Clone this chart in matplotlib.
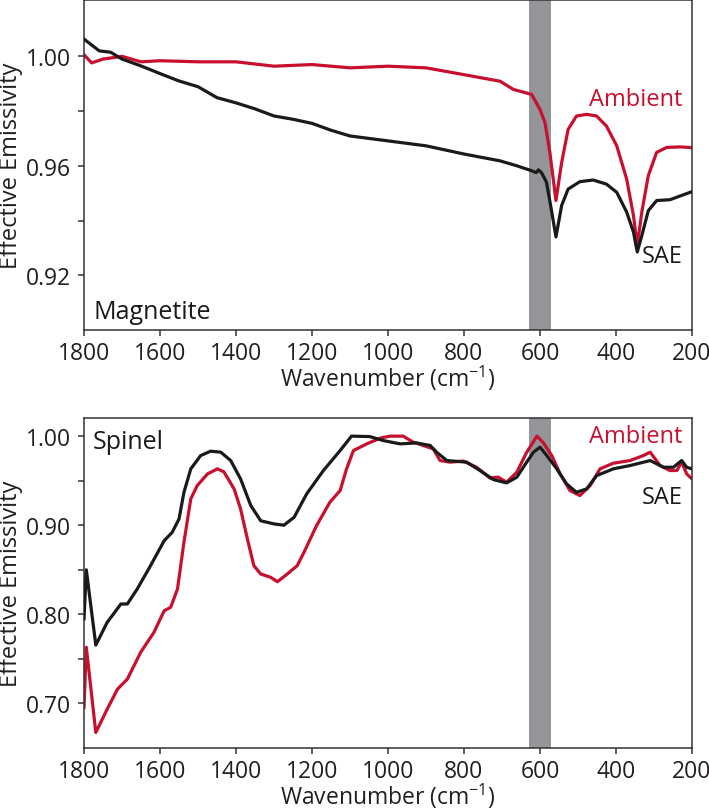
import matplotlib
matplotlib.use("Agg")
import matplotlib.pyplot as plt

plt.rcParams['font.family'] = ['Open Sans', 'DejaVu Sans']
plt.rcParams['mathtext.default'] = 'regular'

# ---------------- Magnetite (top) ----------------
mag_sae_w = [1800, 1760, 1730, 1700, 1650, 1600, 1550, 1500, 1450, 1400, 1350, 1300, 1250,
             1200, 1150, 1100, 1000, 900, 800, 705, 661, 622, 610, 604, 596, 583, 572, 558,
             543, 526, 495, 460, 425, 398, 372, 354, 344, 332, 315, 293, 258, 205, 200]
mag_sae_v = [1.0063, 1.002, 1.0015, 0.999, 0.9965, 0.9937, 0.991, 0.9889, 0.9849, 0.9830,
             0.9808, 0.9782, 0.9770, 0.9755, 0.9730, 0.9709, 0.9691, 0.9673, 0.9643, 0.9618,
             0.9600, 0.9582, 0.9575, 0.9585, 0.9575, 0.9540, 0.9455, 0.9340, 0.9455, 0.9515,
             0.9542, 0.9548, 0.9533, 0.9503, 0.9431, 0.9358, 0.9285, 0.9345, 0.9436, 0.9473,
             0.9476, 0.9503, 0.9505]

mag_amb_w = [1800, 1780, 1750, 1700, 1650, 1600, 1500, 1400, 1300, 1200, 1100, 1000, 900,
             800, 705, 670, 622, 600, 587, 574, 558, 543, 526, 504, 477, 451, 425, 398, 372,
             354, 344, 332, 315, 293, 267, 232, 205, 200]
mag_amb_v = [1.0006, 0.9976, 0.9990, 1.0000, 0.9980, 0.9984, 0.9980, 0.9980, 0.9964, 0.9970,
             0.9958, 0.9964, 0.9958, 0.9933, 0.9909, 0.9879, 0.9861, 0.9806, 0.9758, 0.9649,
             0.9473, 0.9612, 0.9733, 0.9782, 0.9788, 0.9782, 0.9745, 0.9673, 0.9552, 0.9418,
             0.9309, 0.9431, 0.9564, 0.9649, 0.9667, 0.9669, 0.9667, 0.9665]

# ---------------- Spinel (bottom) ----------------
sp_sae_w = [1800, 1794, 1769, 1739, 1703, 1686, 1660, 1625, 1589, 1568, 1550, 1537, 1519,
            1493, 1467, 1440, 1414, 1388, 1361, 1335, 1300, 1274, 1247, 1214, 1170, 1126,
            1096, 1048, 1012, 968, 925, 889, 872, 845, 793, 758, 723, 688, 661, 635, 617,
            600, 582, 556, 530, 504, 477, 451, 407, 363, 310, 275, 249, 227, 214, 200]
sp_sae_v = [0.795, 0.850, 0.7655, 0.791, 0.8116, 0.8116, 0.8284, 0.8546, 0.8827, 0.892,
            0.907, 0.937, 0.9633, 0.9782, 0.9831, 0.982, 0.9726, 0.952, 0.922, 0.905,
            0.9015, 0.900, 0.909, 0.9352, 0.9614, 0.9838, 1.000, 0.9995, 0.995, 0.9913,
            0.9924, 0.9895, 0.982, 0.9726, 0.9708, 0.9614, 0.9513, 0.9475, 0.9539, 0.9708,
            0.982, 0.9876, 0.9782, 0.9633, 0.9464, 0.937, 0.9408, 0.9557, 0.9633, 0.967,
            0.9726, 0.9651, 0.9651, 0.9726, 0.9651, 0.9633]

sp_amb_w = [1800, 1794, 1769, 1739, 1712, 1686, 1651, 1616, 1589, 1572, 1554, 1537, 1519,
            1502, 1475, 1449, 1432, 1405, 1388, 1370, 1353, 1335, 1309, 1291, 1265, 1239,
            1221, 1188, 1153, 1126, 1109, 1091, 1056, 1021, 995, 960, 934, 907, 881, 863,
            837, 802, 767, 732, 710, 688, 661, 635, 608, 591, 569, 547, 521, 495, 468, 442,
            407, 363, 328, 310, 284, 258, 240, 227, 214, 200]
sp_amb_v = [0.6955, 0.763, 0.6674, 0.6936, 0.716, 0.7273, 0.7573, 0.7798, 0.804, 0.8079,
            0.8284, 0.881, 0.9296, 0.9445, 0.9576, 0.9633, 0.960, 0.9408, 0.9183, 0.8846,
            0.8546, 0.8453, 0.8416, 0.8366, 0.8453, 0.8546, 0.8697, 0.8996, 0.9258, 0.9389,
            0.9633, 0.9838, 0.9913, 0.9977, 1.000, 1.000, 0.9933, 0.9895, 0.9857, 0.9726,
            0.9708, 0.972, 0.9652, 0.953, 0.954, 0.9483, 0.9595, 0.982, 1.000, 0.9924,
            0.9782, 0.9576, 0.9389, 0.9333, 0.9445, 0.9633, 0.9696, 0.9726, 0.9782, 0.982,
            0.967, 0.9614, 0.9614, 0.9708, 0.9576, 0.952]

band = (570, 630)
RED = '#c8102e'
BLK = '#1a1a1a'
GRAY = '#939598'

fig = plt.figure(figsize=(7.09, 8.12), dpi=100)
ax1 = fig.add_axes([0.1185, 0.5924, 0.8575, 0.4064])
ax2 = fig.add_axes([0.1185, 0.0776, 0.8575, 0.406])

def style(ax, yticks, yminor, ylim, fmt):
    ax.set_xlim(1800, 200)
    ax.set_ylim(*ylim)
    ax.set_xticks([1800, 1600, 1400, 1200, 1000, 800, 600, 400, 200])
    ax.set_yticks(yticks)
    ax.set_yticks(yminor, minor=True)
    ax.set_yticklabels([fmt % t for t in yticks])
    ax.tick_params(axis='both', which='both', direction='out', length=4.5, width=1.1,
                   color='#333333', labelsize=16.5, labelcolor='#231f20')
    ax.tick_params(axis='y', which='both', pad=5)
    ax.tick_params(axis='x', pad=3.5)
    for s in ax.spines.values():
        s.set_linewidth(1.1)
        s.set_color('#333333')
    ax.set_xlabel('Wavenumber (cm$^{-1}$)', fontsize=16.5, color='#231f20', labelpad=-1.5)
    ax.set_ylabel('Effective Emissivity', fontsize=17, color='#231f20', labelpad=2)
    ax.axvspan(band[0], band[1], color=GRAY, lw=0, zorder=0)

style(ax1, [0.92, 0.96, 1.00], [0.94, 0.98], (0.90, 1.0206), '%.2f')
ax1.plot(mag_amb_w, mag_amb_v, color=RED, lw=2.3, zorder=2)
ax1.plot(mag_sae_w, mag_sae_v, color=BLK, lw=2.3, zorder=3)
ax1.text(0.985, 0.70, 'Ambient', color=RED, fontsize=17, ha='right', va='center', transform=ax1.transAxes)
ax1.text(0.985, 0.225, 'SAE', color=BLK, fontsize=17, ha='right', va='center', transform=ax1.transAxes)
ax1.text(0.015, 0.055, 'Magnetite', color=BLK, fontsize=18, ha='left', va='center', transform=ax1.transAxes)

style(ax2, [0.70, 0.80, 0.90, 1.00], [0.75, 0.85, 0.95], (0.65, 1.020), '%.2f')
ax2.plot(sp_amb_w, sp_amb_v, color=RED, lw=2.3, zorder=2)
ax2.plot(sp_sae_w, sp_sae_v, color=BLK, lw=2.3, zorder=3)
ax2.text(0.985, 0.945, 'Ambient', color=RED, fontsize=17, ha='right', va='center', transform=ax2.transAxes)
ax2.text(0.985, 0.76, 'SAE', color=BLK, fontsize=17, ha='right', va='center', transform=ax2.transAxes)
ax2.text(0.015, 0.93, 'Spinel', color=BLK, fontsize=18, ha='left', va='center', transform=ax2.transAxes)

fig.savefig('out.png', dpi=100)
